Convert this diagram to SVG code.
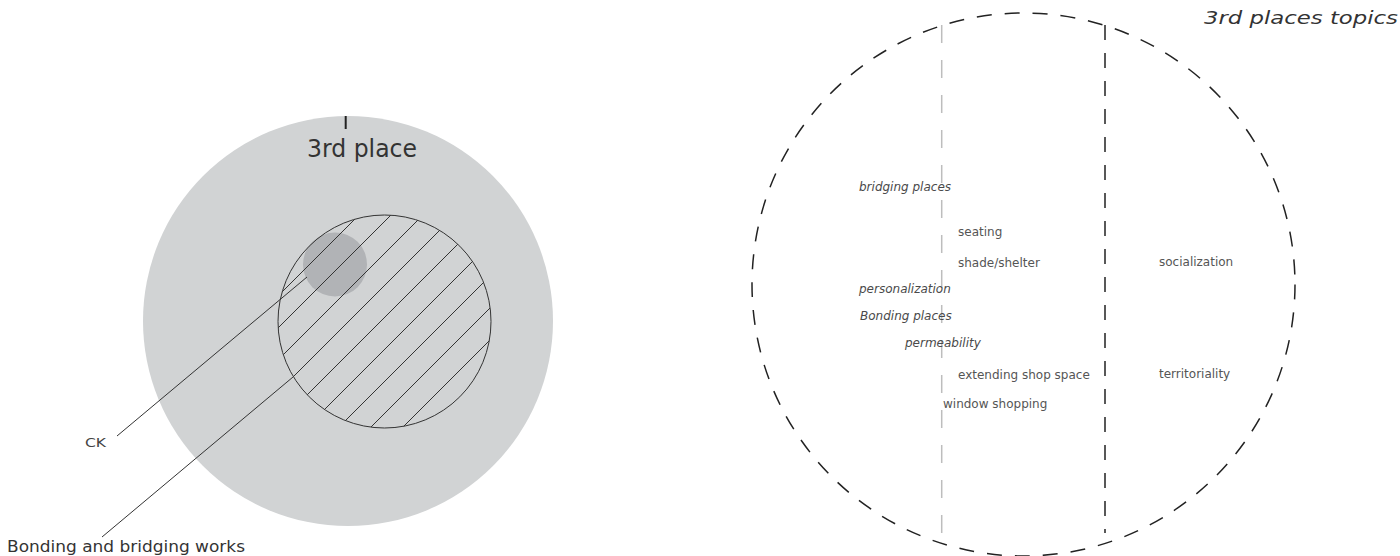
<svg xmlns="http://www.w3.org/2000/svg" width="1400" height="556" viewBox="0 0 1400 556">
  <style>
    text { font-family: "DejaVu Sans", "Liberation Sans", sans-serif; }
    .lbl { font-size: 12px; fill: #555; }
    .it { font-style: italic; fill: #4a4a4a; }
    .lead { stroke: #333; stroke-width: 1; fill: none; }
    .hatch { stroke: #333; stroke-width: 1; }
  </style>
  <defs>
    <clipPath id="hclip"><circle cx="384.5" cy="321.5" r="106.5"/></clipPath>
  </defs>
  <rect width="1400" height="556" fill="#fff"/>

  <g id="third-place">
    <circle cx="348" cy="321" r="205" fill="#d1d3d4"/>
    <line x1="345.7" y1="116" x2="345.7" y2="129" stroke="#222" stroke-width="2"/>
    <text x="307" y="157" font-size="24" fill="#333" textLength="110" lengthAdjust="spacingAndGlyphs">3rd place</text>
  </g>

  <g id="ck">
    <circle cx="335" cy="264.5" r="32" fill="#b1b3b6"/>
  </g>

  <g id="bonding-bridging">
    <g clip-path="url(#hclip)" class="hatch">
      <line x1="74" y1="500" x2="574" y2="0"/>
      <line x1="106" y1="500" x2="606" y2="0"/>
      <line x1="138" y1="500" x2="638" y2="0"/>
      <line x1="170" y1="500" x2="670" y2="0"/>
      <line x1="202" y1="500" x2="702" y2="0"/>
      <line x1="234" y1="500" x2="734" y2="0"/>
      <line x1="266" y1="500" x2="766" y2="0"/>
      <line x1="298" y1="500" x2="798" y2="0"/>
      <line x1="330" y1="500" x2="830" y2="0"/>
    </g>
    <circle cx="384.5" cy="321.5" r="106.5" fill="none" stroke="#333" stroke-width="1"/>
  </g>

  <g id="connectors">
    <line class="lead" x1="117" y1="436" x2="307" y2="277"/>
    <line class="lead" x1="102" y1="537" x2="293" y2="377"/>
  </g>

  <g id="labels-left">
    <text x="85" y="447" font-size="12" fill="#444" textLength="21" lengthAdjust="spacingAndGlyphs">CK</text>
    <text x="7" y="551.5" font-size="16.5" fill="#333" textLength="238" lengthAdjust="spacingAndGlyphs">Bonding and bridging works</text>
  </g>

  <g id="topics">
    <circle cx="1023.5" cy="284.5" r="271.5" fill="none" stroke="#222" stroke-width="1.5" stroke-dasharray="15 13"/>
    <line x1="941.7" y1="25" x2="941.7" y2="543" stroke="#bdbdbd" stroke-width="1.5" stroke-dasharray="18 17"/>
    <line x1="1105" y1="25" x2="1105" y2="533" stroke="#222" stroke-width="1.5" stroke-dasharray="15 13"/>
    <text x="1204" y="24" font-size="18" font-style="italic" fill="#333" textLength="194" lengthAdjust="spacingAndGlyphs">3rd places topics</text>
  </g>

  <g id="topic-labels">
    <text class="lbl it" x="859" y="191">bridging places</text>
    <text class="lbl" x="958" y="236">seating</text>
    <text class="lbl" x="958" y="267">shade/shelter</text>
    <text class="lbl it" x="859" y="293">personalization</text>
    <text class="lbl it" x="860" y="320">Bonding places</text>
    <text class="lbl it" x="905" y="347">permeability</text>
    <text class="lbl" x="958" y="379">extending shop space</text>
    <text class="lbl" x="943" y="408">window shopping</text>
    <text class="lbl" x="1159" y="266">socialization</text>
    <text class="lbl" x="1159" y="378">territoriality</text>
  </g>
</svg>
